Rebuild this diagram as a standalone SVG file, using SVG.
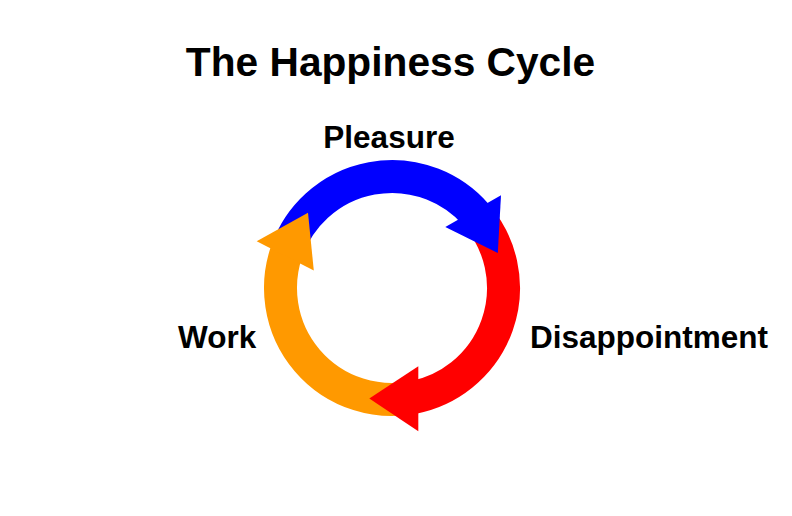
<svg xmlns="http://www.w3.org/2000/svg" width="792" height="516" viewBox="0 0 792 516">
<style>
  text { font-family: "Liberation Sans", Arial, sans-serif; font-weight: bold; fill: #000; }
  .title { font-size: 40.7px; }
  .label { font-size: 31.5px; }
  .arc { fill: none; stroke-width: 33; stroke-linecap: butt; }
  .blue { stroke: #0000FF; }
  .red { stroke: #FF0000; }
  .orange { stroke: #FF9900; }
</style>
<rect width="792" height="516" fill="#FFFFFF"/>
<g id="title">
  <text class="title" x="390.5" y="75.5" text-anchor="middle">The Happiness Cycle</text>
</g>
<g id="connectors">
  <path class="arc blue" d="M 287.23 249.86 A 111.5 111.5 0 0 1 476.15 214.85"/>
  <path class="arc red" d="M 477.41 216.33 A 111.5 111.5 0 0 1 413.28 397.45"/>
  <path class="arc orange" d="M 411.36 397.81 A 111.5 111.5 0 0 1 286.58 251.70"/>
  <polygon fill="#0000FF" points="501,195.3 497.8,253 445.3,227"/>
  <polygon fill="#FF0000" points="418.3,366.2 418.3,431.2 369.3,398.5"/>
  <polygon fill="#FF9900" points="256.7,241.2 308,212.8 313.8,270.6"/>
</g>
<g id="node-pleasure">
  <text class="label" x="389" y="148" text-anchor="middle">Pleasure</text>
</g>
<g id="node-disappointment">
  <text class="label" x="530" y="348">Disappointment</text>
</g>
<g id="node-work">
  <text class="label" x="178" y="348">Work</text>
</g>
</svg>
